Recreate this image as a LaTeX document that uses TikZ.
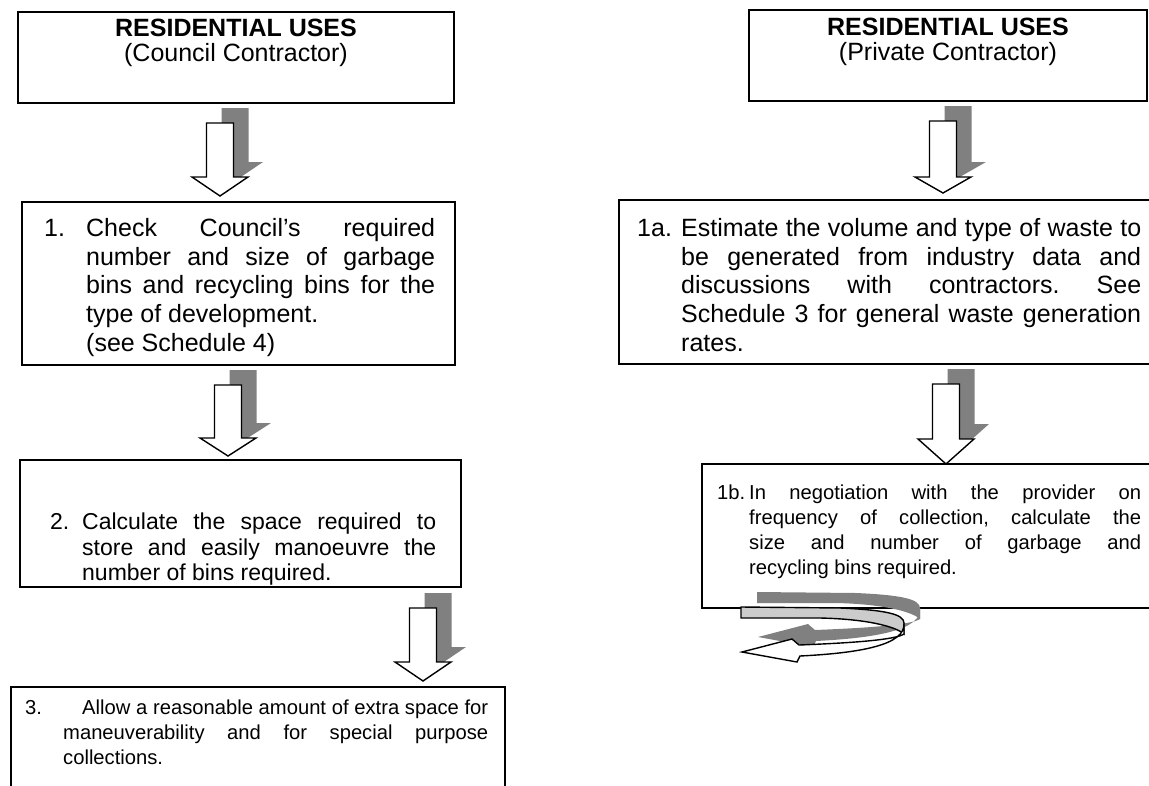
\documentclass[tikz,border=0pt]{standalone}
\usepackage{fontspec}
\setmainfont{Liberation Sans}
\definecolor{shadowgray}{RGB}{128,128,128}
\definecolor{bandgray}{RGB}{204,204,204}
\tolerance=10000
\hbadness=10000
\hyphenpenalty=10000
\frenchspacing

\tikzset{
  panel/.style={draw, line width=1.8pt, anchor=north west, inner sep=0pt, outer sep=0pt},
  headtext/.style={anchor=north, inner sep=0pt, align=center, font=\fontsize{25}{25}\selectfont},
  bigtext/.style={anchor=north west, inner sep=0pt, font=\fontsize{25}{28.7}\selectfont},
  midtext/.style={anchor=north west, inner sep=0pt, font=\fontsize{23}{25.3}\selectfont},
  smalltext/.style={anchor=north west, inner sep=0pt, font=\fontsize{20.2}{24.8}\selectfont},
  arrowline/.style={draw=black, fill=white, line width=1.4pt}
}

% numbered paragraph: label width, label, text width, text
\newcommand{\steppar}[4]{\makebox[#1][l]{#2}\parbox[t]{#3}{#4}}

% block arrow with shadow: centre x, shaft top, head base, tip
\newcommand{\flowarrow}[4]{%
  \begin{scope}[shift={(15,-15)}]
    \fill[shadowgray] (#1-13.5,#2) -- (#1+13.5,#2) -- (#1+13.5,#3) -- (#1+28,#3) -- (#1,#4)
      -- (#1-28,#3) -- (#1-13.5,#3) -- cycle;
  \end{scope}
  \path[arrowline] (#1-13.5,#2) -- (#1+13.5,#2) -- (#1+13.5,#3) -- (#1+28,#3) -- (#1,#4)
      -- (#1-28,#3) -- (#1-13.5,#3) -- cycle;
}

\begin{document}
\begin{tikzpicture}[x=1pt, y=-1pt]
  \useasboundingbox (0,0) rectangle (1149,785);
  \clip (0,0) rectangle (1149,785);

  % boxes
  \node[panel, minimum width=436pt, minimum height=91pt] (resA) at (18,12) {};
  \node[panel, minimum width=398pt, minimum height=91pt] (resB) at (749,10) {};
  \node[panel, minimum width=433pt, minimum height=163pt] (chk) at (22,202) {};
  \node[panel, minimum width=560pt, minimum height=164pt] (est) at (619,200) {};
  \node[panel, minimum width=441pt, minimum height=127pt] (calc) at (20,460) {};
  \node[panel, minimum width=480pt, minimum height=144pt] (nego) at (702,464) {};
  \node[panel, minimum width=494pt, minimum height=130pt] (extra) at (11,687) {};

  % texts
  \node[headtext] (resAtxt) at ([yshift=-7pt]resA.north)
    {\textbf{RESIDENTIAL USES}\\(Council Contractor)};
  \node[headtext] (resBtxt) at ([yshift=-8pt]resB.north)
    {\textbf{RESIDENTIAL USES}\\(Private Contractor)};
  \node[bigtext] (chktxt) at ([shift={(22,16)}]chk.north west)
    {\steppar{42pt}{1.}{349pt}{Check Council’s required\linebreak
     number and size of garbage\linebreak bins and recycling bins for the\linebreak
     type of development.\newline (see Schedule 4)}};
  \node[bigtext] (esttxt) at ([shift={(18,18)}]est.north west)
    {\steppar{44pt}{1a.}{460pt}{Estimate the volume and type of waste to\linebreak
     be generated from industry data and\linebreak discussions with contractors. See\linebreak
     Schedule 3 for general waste generation\linebreak rates.}};
  \node[midtext] (calctxt) at ([shift={(30,53)}]calc.north west)
    {\steppar{32pt}{2.}{354pt}{Calculate the space required to\linebreak
     store and easily manoeuvre the\linebreak number of bins required.}};
  \node[smalltext] (negotxt) at ([shift={(15,21)}]nego.north west)
    {\steppar{32pt}{1b.}{392pt}{In negotiation with the provider on\linebreak
     frequency of collection, calculate the\linebreak size and number of garbage and\linebreak
     recycling bins required.}};
  \node[smalltext] (extratxt) at ([shift={(14,13)}]extra.north west)
    {\steppar{38pt}{3.}{425pt}{\hspace*{19pt}Allow a reasonable amount of extra space for\linebreak
     maneuverability and for special purpose\linebreak collections.}};

  % arrows
  \flowarrow{220}{123}{177}{196}
  \flowarrow{943}{121}{177}{193}
  \flowarrow{228}{385}{438}{456}
  \flowarrow{946}{384}{439}{464}
  \flowarrow{423}{608}{662}{681}

  % return arrow under 1b
  \begin{scope}[shift={(16,-15)}]
    \fill[shadowgray] (741,607) -- (840,608) .. controls (885,610) and (904,614) .. (904,623)
      -- (904,634) .. controls (895,626) and (865,619) .. (820,618) -- (741,618) -- cycle;
    \fill[shadowgray] (904,623) .. controls (906,645) and (860,653) .. (800,656) -- (797,662)
      -- (742,652) -- (792,639) -- (799,645) .. controls (850,643) and (895,640) .. (904,634) -- cycle;
  \end{scope}
  \path[arrowline, fill=bandgray] (741,607) -- (840,608) .. controls (885,610) and (904,614) .. (904,623)
    -- (904,634) .. controls (895,626) and (865,619) .. (820,618) -- (741,618) -- cycle;
  \path[arrowline] (904,623) .. controls (906,645) and (860,653) .. (800,656) -- (797,662)
    -- (742,652) -- (792,639) -- (799,645) .. controls (850,643) and (895,640) .. (904,634) -- cycle;
\end{tikzpicture}
\end{document}
